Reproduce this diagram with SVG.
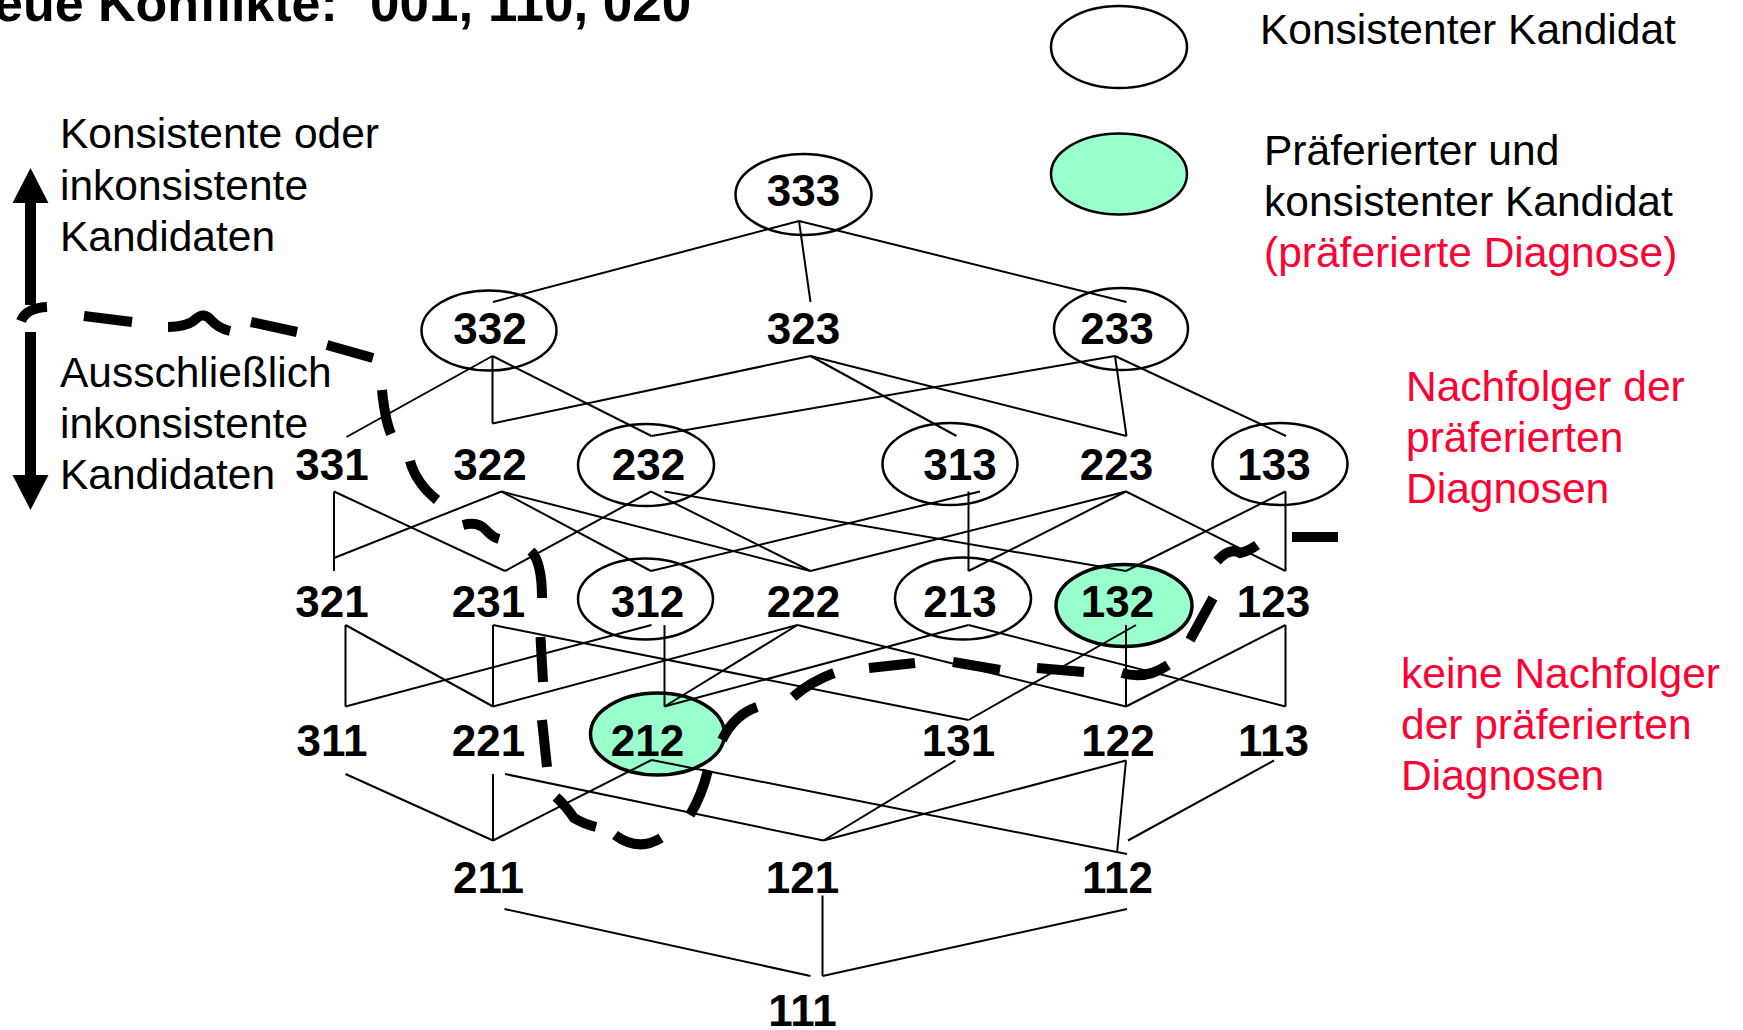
<svg xmlns="http://www.w3.org/2000/svg" width="1743" height="1030" viewBox="0 0 1743 1030">
<style>
.n{font-family:"Liberation Sans",Arial,sans-serif;font-weight:bold;font-size:44px;text-anchor:middle;fill:#000}
.t{font-family:"Liberation Sans",Arial,sans-serif;font-size:42.5px;fill:#000}
.r{fill:#ff0033}
.e{fill:#fff;stroke:#000;stroke-width:2.5}
.g{fill:#99ffcc;stroke:#000;stroke-width:3.5}
#edges line{stroke:#000;stroke-width:2}
#boundary path{fill:none;stroke:#000;stroke-width:10}
</style>
<rect width="1743" height="1030" fill="#fff"/>
<text x="-6" y="21" style="font-family:'Liberation Sans',Arial,sans-serif;font-weight:bold;font-size:52px">eue Konflikte:<tspan x="370" style="font-size:53px">001, 110, 020</tspan></text>

<g id="legend">
<ellipse class="e" cx="1119" cy="47" rx="68" ry="41"/>
<text class="t" x="1260" y="44">Konsistenter Kandidat</text>
<ellipse class="g" cx="1119" cy="174" rx="68" ry="40.5" style="stroke-width:2.5"/>
<text class="t" x="1264" y="165">Präferierter und</text>
<text class="t" x="1264" y="216">konsistenter Kandidat</text>
<text class="t r" x="1264" y="267">(präferierte Diagnose)</text>
</g>

<g id="left-labels">
<text class="t" x="60" y="148">Konsistente oder</text>
<text class="t" x="60" y="200">inkonsistente</text>
<text class="t" x="60" y="251">Kandidaten</text>
<text class="t" x="60" y="387">Ausschließlich</text>
<text class="t" x="60" y="438">inkonsistente</text>
<text class="t" x="60" y="489">Kandidaten</text>
<path d="M25,305 L25,203 L12.5,203 L30.5,168 L48.5,203 L36,203 L36,305 Z" fill="#000"/>
<path d="M25,332 L25,475 L12.5,475 L30.5,510 L48.5,475 L36,475 L36,332 Z" fill="#000"/>
</g>

<g id="right-labels">
<text class="t r" x="1406" y="401">Nachfolger der</text>
<text class="t r" x="1406" y="452">präferierten</text>
<text class="t r" x="1406" y="503">Diagnosen</text>
<text class="t r" x="1401" y="688">keine Nachfolger</text>
<text class="t r" x="1401" y="739">der präferierten</text>
<text class="t r" x="1401" y="790">Diagnosen</text>
</g>

<g id="n333"><ellipse class="e" cx="803.5" cy="194.5" rx="68" ry="40.5"/><text class="n" x="803.5" y="205.5">333</text></g>
<g id="n332"><ellipse class="e" cx="489" cy="330.5" rx="67.5" ry="40"/><text class="n" x="490" y="344">332</text></g>
<g id="n323"><text class="n" x="803.5" y="344">323</text></g>
<g id="n233"><ellipse class="e" cx="1121" cy="329" rx="67" ry="41"/><text class="n" x="1117" y="344">233</text></g>
<g id="n331"><text class="n" x="332" y="479.5">331</text></g>
<g id="n322"><text class="n" x="490" y="479.5">322</text></g>
<g id="n232"><ellipse class="e" cx="646" cy="465" rx="68" ry="41"/><text class="n" x="648.5" y="479.5">232</text></g>
<g id="n313"><ellipse class="e" cx="950" cy="464" rx="67.5" ry="41"/><text class="n" x="960" y="479.5">313</text></g>
<g id="n223"><text class="n" x="1116.5" y="479.5">223</text></g>
<g id="n133"><ellipse class="e" cx="1280" cy="464" rx="67.5" ry="41"/><text class="n" x="1274" y="479.5">133</text></g>
<g id="n321"><text class="n" x="332" y="617">321</text></g>
<g id="n231"><text class="n" x="488.5" y="617">231</text></g>
<g id="n312"><ellipse class="e" cx="645.5" cy="599" rx="67.5" ry="40.5"/><text class="n" x="647.5" y="617">312</text></g>
<g id="n222"><text class="n" x="803.5" y="617">222</text></g>
<g id="n213"><ellipse class="e" cx="963" cy="598.5" rx="68" ry="41"/><text class="n" x="960" y="617">213</text></g>
<g id="n132"><ellipse class="g" cx="1124" cy="605.5" rx="68" ry="41"/><text class="n" x="1117.5" y="617">132</text></g>
<g id="n123"><text class="n" x="1273.5" y="617">123</text></g>
<g id="n311"><text class="n" x="332" y="755.5">311</text></g>
<g id="n221"><text class="n" x="488.5" y="755.5">221</text></g>
<g id="n212"><ellipse class="g" cx="657.5" cy="734" rx="67" ry="41"/><text class="n" x="647.5" y="755.5">212</text></g>
<g id="n131"><text class="n" x="958.5" y="755.5">131</text></g>
<g id="n122"><text class="n" x="1118" y="755.5">122</text></g>
<g id="n113"><text class="n" x="1273.5" y="755.5">113</text></g>
<g id="n211"><text class="n" x="488.5" y="892.5">211</text></g>
<g id="n121"><text class="n" x="802.5" y="892.5">121</text></g>
<g id="n112"><text class="n" x="1117.5" y="892.5">112</text></g>
<g id="n111"><text class="n" x="802.5" y="1026">111</text></g>

<g id="edges">
<line x1="799" y1="221" x2="493" y2="302"/>
<line x1="799" y1="221" x2="810.5" y2="302"/>
<line x1="799" y1="221" x2="1126.5" y2="302"/>
<line x1="492.5" y1="356" x2="346.5" y2="437"/>
<line x1="492.5" y1="356" x2="492.5" y2="423.5"/>
<line x1="492.5" y1="356" x2="651.5" y2="436"/>
<line x1="810.5" y1="356" x2="492.5" y2="423.5"/>
<line x1="810.5" y1="356" x2="956.5" y2="436"/>
<line x1="810.5" y1="356" x2="1126.5" y2="436"/>
<line x1="1115" y1="356" x2="651.5" y2="436"/>
<line x1="1115" y1="356" x2="1126.5" y2="436"/>
<line x1="1115" y1="356" x2="1286" y2="436"/>
<line x1="334" y1="491.5" x2="334" y2="571"/>
<line x1="334" y1="491.5" x2="505" y2="571"/>
<line x1="501.5" y1="491.5" x2="334" y2="558"/>
<line x1="501.5" y1="491.5" x2="651" y2="571"/>
<line x1="501.5" y1="491.5" x2="810.5" y2="571"/>
<line x1="651" y1="491.5" x2="505" y2="571"/>
<line x1="651" y1="491.5" x2="810.5" y2="571"/>
<line x1="664.5" y1="491.5" x2="1126" y2="571"/>
<line x1="980" y1="491.5" x2="651" y2="571"/>
<line x1="968.5" y1="491.5" x2="968.5" y2="571"/>
<line x1="1126" y1="491.5" x2="810.5" y2="571"/>
<line x1="1126" y1="491.5" x2="968.5" y2="571"/>
<line x1="1126" y1="491.5" x2="1285.5" y2="571"/>
<line x1="1285.5" y1="491.5" x2="1126" y2="571"/>
<line x1="1285.5" y1="491.5" x2="1285.5" y2="571"/>
<line x1="345.5" y1="625" x2="345.5" y2="706.5"/>
<line x1="345.5" y1="625" x2="493" y2="706.5"/>
<line x1="493" y1="625" x2="493" y2="706.5"/>
<line x1="493" y1="625" x2="968.5" y2="720"/>
<line x1="651.5" y1="625" x2="345.5" y2="706.5"/>
<line x1="664.5" y1="625" x2="664.5" y2="706.5"/>
<line x1="797.5" y1="625" x2="493" y2="706.5"/>
<line x1="797.5" y1="625" x2="664.5" y2="706.5"/>
<line x1="797.5" y1="625" x2="1126" y2="706.5"/>
<line x1="968.5" y1="625" x2="664.5" y2="706.5"/>
<line x1="968.5" y1="625" x2="1285.5" y2="706.5"/>
<line x1="1136" y1="625" x2="968.5" y2="720"/>
<line x1="1126" y1="625" x2="1126" y2="706.5"/>
<line x1="1285.5" y1="625" x2="1126" y2="706.5"/>
<line x1="1285.5" y1="625" x2="1285.5" y2="706.5"/>
<line x1="345.5" y1="774" x2="493" y2="840.5"/>
<line x1="493" y1="774" x2="493" y2="840.5"/>
<line x1="505" y1="774" x2="823.5" y2="840.5"/>
<line x1="651.5" y1="760" x2="493" y2="840.5"/>
<line x1="651.5" y1="760" x2="1127" y2="854"/>
<line x1="955.5" y1="760.5" x2="823.5" y2="840.5"/>
<line x1="1126" y1="760.5" x2="823.5" y2="840.5"/>
<line x1="1126" y1="760.5" x2="1117" y2="853"/>
<line x1="1274" y1="760.5" x2="1128" y2="840.5"/>
<line x1="504.5" y1="909" x2="810.5" y2="976"/>
<line x1="822.5" y1="895.5" x2="822.5" y2="976"/>
<line x1="1127" y1="909" x2="822.5" y2="976"/>
</g>

<g id="boundary">
<path d="M21,321 Q26,308 47,307"/>
<path d="M84,316 L132,322"/>
<path d="M168,327 Q188,327 197,318 Q204,312 211,320 Q218,328 230,331"/>
<path d="M251,322 L297,332"/>
<path d="M327,345 L373,358"/>
<path d="M382,390 Q385,420 391,434"/>
<path d="M410,461 Q416,483 437,500"/>
<path d="M463,525 Q478,521 486,530 Q492,537 499,539"/>
<path d="M531,551 Q542,562 542,598"/>
<path d="M540.5,637 L543,682"/>
<path d="M542,720 L547,767"/>
<path d="M556,797 Q566,806 574,818 Q584,824 596,827"/>
<path d="M615,835 Q638,852 661,838"/>
<path d="M690,815 Q702,795 708,770"/>
<path d="M722,740 Q734,715 757,707"/>
<path d="M793,697 Q810,682 834,673"/>
<path d="M869,668 L915,663"/>
<path d="M953,662 L1000,670"/>
<path d="M1037,668 L1084,672"/>
<path d="M1122,673 Q1146,680 1168,665"/>
<path d="M1190,640 L1213,598"/>
<path d="M1217,561 Q1230,547 1240,553 Q1249,551 1257,545"/>
<path d="M1292,537 L1338,537"/>
</g>
</svg>
